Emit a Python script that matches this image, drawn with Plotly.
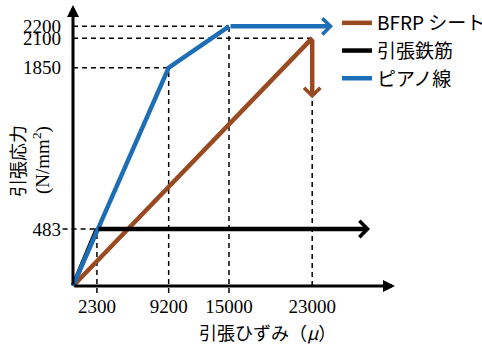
import plotly.graph_objects as go

# ---------------- data ----------------
x_ticks = [2300, 9200, 15000, 23000]
x_tick_text = ["2300", "9200", "15000", "23000"]
y_ticks = [483, 1850, 2100, 2200]
y_tick_text = ["483", "1850", "2100", "2200"]

bfrp_strain = [0, 23000]
bfrp_stress = [0, 2100]
bfrp_drop_stress = 1590          # stress at the tip of the downward (rupture) arrow

steel_strain = [0, 2300]
steel_stress = [0, 483]
steel_arrow_strain = 28560       # strain at the tip of the rightward arrow

piano_strain = [0, 9200, 15000]
piano_stress = [0, 1850, 2200]
piano_arrow_strain = 25000

series_names = ["BFRP シート", "引張鉄筋", "ピアノ線"]

# ---------------- style ----------------
BROWN = "#9A4A20"
BLACK = "#000000"
BLUE = "#1C6EB6"
W, H = 482, 345
L, R, T, B = 62, 82, 3, 49
X_RANGE = [-1058, 31442]
Y_RANGE = [-85, 2398]
X_AXIS_END = 30960
Y_AXIS_END = 2381
CJK = "Noto Sans CJK JP"
SERIF = "Liberation Serif"


def px_to_paper_x(px):
    return (px - L) / (W - L - R)


def px_to_paper_y(py):
    return (H - B - py) / (H - T - B)


fig = go.Figure()

# dashed guide lines derived from the values
gx, gy = [], []
for xv, yv in [(piano_strain[2], piano_stress[2]), (bfrp_strain[1], bfrp_stress[1]),
               (piano_strain[1], piano_stress[1])]:
    gx += [0, xv, None]
    gy += [yv, yv, None]
gx += [-1000, steel_strain[1], None]
gy += [steel_stress[1], steel_stress[1], None]
for xv, yv in [(steel_strain[1], steel_stress[1]), (piano_strain[1], piano_stress[1]),
               (piano_strain[2], piano_stress[2])]:
    gx += [xv, xv, None]
    gy += [-60, yv, None]
gx += [bfrp_strain[1], bfrp_strain[1], None]
gy += [0, bfrp_stress[1], None]
fig.add_trace(go.Scatter(x=gx, y=gy, mode="lines", showlegend=False, hoverinfo="skip",
                         line=dict(color="black", width=1.5, dash="5px,4px")))

fig.add_trace(go.Scatter(x=steel_strain, y=steel_stress, mode="lines", name=series_names[1],
                         legendrank=2, line=dict(color=BLACK, width=4.5)))
fig.add_trace(go.Scatter(x=bfrp_strain, y=bfrp_stress, mode="lines", name=series_names[0],
                         legendrank=1, line=dict(color=BROWN, width=4.5)))
fig.add_trace(go.Scatter(x=piano_strain, y=piano_stress, mode="lines", name=series_names[2],
                         legendrank=3, line=dict(color=BLUE, width=4.5)))

ann = []


def arrow(x0, y0, x1, y1, color, width, head, size):
    ann.append(dict(x=x1, y=y1, ax=x0, ay=y0, xref="x", yref="y", axref="x", ayref="y",
                    showarrow=True, arrowhead=head, arrowsize=size, arrowwidth=width,
                    arrowcolor=color, text="", standoff=0, startstandoff=0))


arrow(0, 0, 0, Y_AXIS_END, "black", 3, 2, 0.8)
arrow(0, 0, X_AXIS_END, 0, "black", 3, 2, 0.8)
arrow(steel_strain[-1], steel_stress[-1], steel_arrow_strain, steel_stress[-1], BLACK, 4.5, 4, 0.7)
arrow(piano_strain[-1], piano_stress[-1], piano_arrow_strain, piano_stress[-1], BLUE, 4.5, 4, 0.7)
arrow(bfrp_strain[-1], bfrp_stress[-1], bfrp_strain[-1], bfrp_drop_stress, BROWN, 4.5, 4, 0.7)

ann.append(dict(text="引張ひずみ（<i>μ</i>）", xref="paper", yref="paper",
                x=px_to_paper_x(267), y=px_to_paper_y(332), showarrow=False,
                xanchor="center", yanchor="middle",
                font=dict(family=CJK, size=18, color="black")))
ann.append(dict(text="引張応力", xref="paper", yref="paper", textangle=-90,
                x=px_to_paper_x(17), y=px_to_paper_y(161), showarrow=False,
                xanchor="center", yanchor="middle",
                font=dict(family=CJK, size=18, color="black")))
ann.append(dict(text="(N/mm<sup>2</sup>)", xref="paper", yref="paper", textangle=-90,
                x=px_to_paper_x(41), y=px_to_paper_y(160), showarrow=False,
                xanchor="center", yanchor="middle",
                font=dict(family=SERIF, size=19, color="black")))

fig.update_layout(
    width=W, height=H,
    margin=dict(l=L, r=R, t=T, b=B, pad=0, autoexpand=False),
    paper_bgcolor="white", plot_bgcolor="white",
    showlegend=True,
    legend=dict(x=px_to_paper_x(337), y=px_to_paper_y(4), xanchor="left", yanchor="top",
                font=dict(family=CJK, size=19, color="black"), bgcolor="rgba(0,0,0,0)",
                tracegroupgap=0),
    annotations=ann,
    xaxis=dict(range=X_RANGE, showgrid=False, zeroline=False, showline=False,
               tickmode="array", tickvals=x_ticks, ticktext=x_tick_text, ticks="",
               ticklen=0, ticklabelstandoff=-3, automargin=False,
               tickfont=dict(family=SERIF, size=19, color="black")),
    yaxis=dict(range=Y_RANGE, showgrid=False, zeroline=False, showline=False,
               tickmode="array", tickvals=y_ticks, ticktext=y_tick_text, ticks="",
               ticklen=0, automargin=False,
               tickfont=dict(family=SERIF, size=19, color="black")),
)

fig.write_html("out.html", config={"displayModeBar": False},
               post_script="document.body.style.margin='0';document.body.style.overflow='hidden';")
